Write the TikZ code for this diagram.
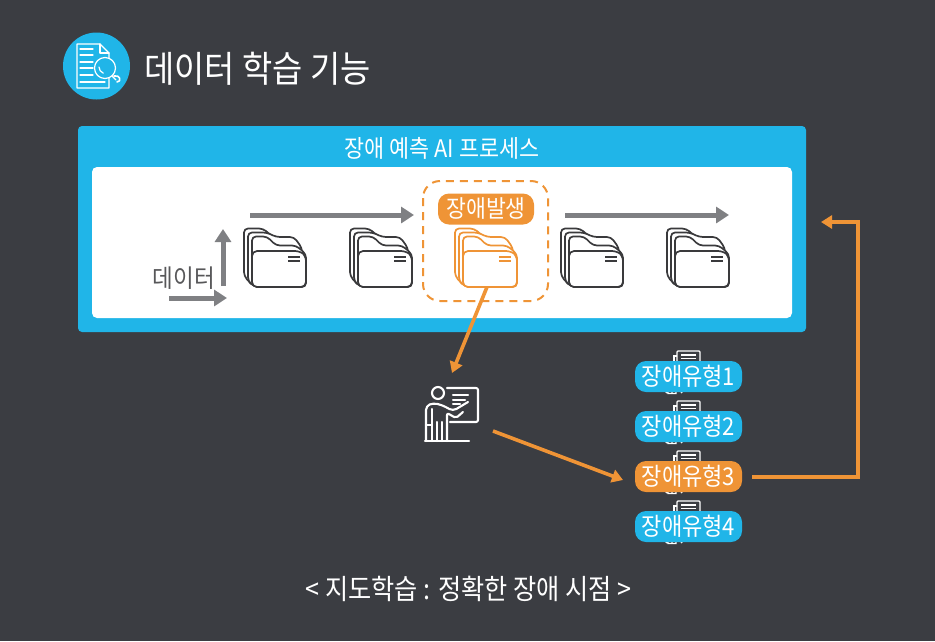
\documentclass[tikz,border=0pt]{standalone}
\usepackage{fontspec}
\setmainfont[FakeStretch=0.9]{Noto Sans CJK KR}
\usetikzlibrary{arrows.meta}
\definecolor{bgc}{HTML}{3B3D42}
\definecolor{bluec}{HTML}{20B5E8}
\definecolor{orangec}{HTML}{EF9436}
\definecolor{grayc}{HTML}{7F8083}
\definecolor{darkl}{HTML}{3A3A3C}
\tikzset{
  grayarrow/.style={draw=grayc,line width=5pt,-{Triangle[length=13pt,width=16pt]}},
  orangearrow/.style={draw=orangec,line width=3.6pt,-{Triangle[length=11pt,width=13pt]}},
  pill/.style={rounded corners=11pt,minimum width=107pt,minimum height=31pt,inner sep=0pt,text=white,font=\fontsize{24.5}{24.5}\selectfont},
  plaintxt/.style={inner sep=0pt},
  iconline/.style={draw=white,line width=1.6pt,line cap=round,line join=round},
  pics/folder/.style={code={
    \begin{scope}[line width=1.7pt,draw=#1,fill=white,line join=round]
    \draw[fill=white,rounded corners=4pt] (9,58) -- (0,48) -- (0,0.5) -- (19,0.5) -- (29,9) -- (46,9) -- (54,18) -- (54,58) -- cycle;
    \draw[fill=white,rounded corners=4pt] (9,58) -- (4,53) -- (4,4.5) -- (23,4.5) -- (32,9) -- (50,9) -- (58,20) -- (58,58) -- cycle;
    \draw[fill=white,rounded corners=4pt] (9,59) -- (8,50) -- (8,8.5) -- (23,8.5) -- (32,17.5) -- (52,17.5) -- (62,26) -- (62,59) -- cycle;
    \draw[fill=white,rounded corners=5pt] (8,23) -- (56,23) -- (62,28) -- (62,59) -- (8,59) -- cycle;
    \draw (44,29) -- (56,29) (44,33) -- (56,33);
    \end{scope}
  }},
  pics/docicon/.style={code={
    \begin{scope}[draw=white,line width=1.3pt]
    \draw[fill=bgc,rounded corners=1pt] (4,1) rectangle (27,14);
    \draw[line width=1.6pt] (8,5) -- (23,5) (8,8.5) -- (23,8.5);
    \draw (4,6) -- (1,6) -- (1,14);
    \draw[line width=1.2pt] (-8,41) -- (-6,43) (-5,38) -- (-5,43.5) -- (3,43.5) -- (3,38) (-1,38) -- (-1,43.5) (8,43) -- (10,41);
    \end{scope}
  }}
}
\begin{document}
\begin{tikzpicture}[x=1pt,y=-1pt]
\useasboundingbox (0,0) rectangle (935,641);
\fill[bgc] (0,0) rectangle (935,641);

% header
\node[circle,fill=bluec,minimum size=67pt,inner sep=0pt] (icon) at (96.5,66) {};
\begin{scope}[iconline,line width=1.2pt]
  \draw (109,78) -- (109,88) -- (77,88) -- (77,44) -- (100,44) -- (109,53) -- (109,58);
  \draw (100,44) -- (100,53) -- (109,53);
  \draw (80,49) -- (93,49) (80,55) -- (93,55) (80,62) -- (93,62) (80,68) -- (93,68) (80,75) -- (93,75) (80,82) -- (105,82);
  \draw[fill=bluec] (105,68) circle (10.5);
  \draw (99,67) arc[start angle=180,end angle=110,radius=6.5];
  \draw (112,76) -- (116,80);
  \draw[line width=1.6pt] (114,76) .. controls (120,74) and (122,82) .. (117,82);
\end{scope}
\node[plaintxt,text=white,anchor=west,font=\fontsize{36.5}{36.5}\selectfont] (title) at (144,68.5) {데이터 학습 기능};

% process panel
\node[fill=bluec,rounded corners=4pt,minimum width=728pt,minimum height=206pt,inner sep=0pt] (panel) at (442,229) {};
\node[fill=white,rounded corners=5pt,minimum width=700pt,minimum height=151pt,inner sep=0pt] (inner) at (442,242.5) {};
\node[plaintxt,text=white,font=\fontsize{24.2}{24.2}\selectfont] (ptitle) at (442,148) {장애 예측 AI 프로세스};

% folders
\pic at (244,228) {folder=darkl};
\pic at (350,228) {folder=darkl};
\pic at (561,228) {folder=darkl};
\pic at (667,228) {folder=darkl};
\draw[orangec,line width=2pt,dash pattern=on 8pt off 6pt,rounded corners=17pt] (423,181) rectangle (548,301);
\pic at (455,228) {folder=orangec};
\node[fill=orangec,rounded corners=11pt,minimum width=96pt,minimum height=31pt,inner sep=0pt,text=white,font=\fontsize{24}{24}\selectfont] (event) at (486,209) {장애발생};

\node[plaintxt,text=darkl!85!white,font=\fontsize{25}{25}\selectfont] (datal) at (184,278) {데이터};

\coordinate (g1s) at (169,298); \coordinate (g1e) at (227,298);
\coordinate (g2s) at (223,286); \coordinate (g2e) at (223,229);
\coordinate (g3s) at (250,215); \coordinate (g3e) at (414,215);
\coordinate (g4s) at (565,215); \coordinate (g4e) at (729,215);
\draw[grayarrow] (g1s) -- (g1e);
\draw[grayarrow] (g2s) -- (g2e);
\draw[grayarrow] (g3s) -- (g3e);
\draw[grayarrow] (g4s) -- (g4e);

% teacher
\begin{scope}[iconline,line width=2.1pt]
  \draw[rounded corners=2pt] (447,388) -- (478,388) -- (478,422) -- (450,422);
  \draw (453,395) -- (468,395) (453,400) -- (465,400) (453,404) -- (460,404);
  \draw (438,393) circle (6);
  \draw[rounded corners=4pt] (426,441) -- (426,406) -- (433,403) -- (442,405) -- (453,411) -- (468,402);
  \draw (426,425) -- (432,425);
  \draw (432,441) -- (432,409);
  \draw[rounded corners=2pt] (447,441) -- (447,413) -- (456,418) -- (463,412);
  \draw (437,441) -- (437,422) (442,422) -- (442,441);
  \draw (425,441) -- (469,441);
\end{scope}
\node[minimum width=56pt,minimum height=56pt,inner sep=0pt] (teacher) at (452,415) {};

% type pills
\pic at (673,350) {docicon};
\pic at (673,400) {docicon};
\pic at (673,450) {docicon};
\pic at (673,500) {docicon};
\node[pill,fill=bluec] (t1) at (688.5,376.5) {장애유형1};
\node[pill,fill=bluec] (t2) at (688.5,426.5) {장애유형2};
\node[pill,fill=orangec] (t3) at (688.5,476.5) {장애유형3};
\node[pill,fill=bluec] (t4) at (688.5,526.5) {장애유형4};

% orange connectors
\coordinate (a1s) at (487,287); \coordinate (a1e) at (452,373);
\coordinate (a2s) at (493,431); \coordinate (a2e) at (623,480);
\coordinate (a3s) at (752,477); \coordinate (a3c) at (858,477); \coordinate (a3d) at (858,222); \coordinate (a3e) at (821,222);
\draw[orangearrow] (a1s) -- (a1e);
\draw[orangearrow] (a2s) -- (a2e);
\draw[orangearrow] (a3s) -- (a3c) -- (a3d) -- (a3e);

\node[plaintxt,text=white,font=\fontsize{28}{28}\selectfont] (foot) at (468.5,589) {< 지도학습 : 정확한 장애 시점 >};
\end{tikzpicture}
\end{document}
